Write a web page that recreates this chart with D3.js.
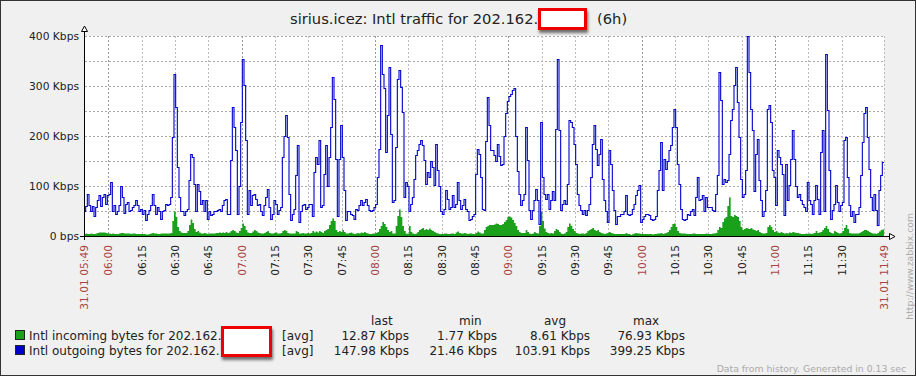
<!DOCTYPE html>
<html><head><meta charset="utf-8">
<script src="https://cdn.jsdelivr.net/npm/d3@7"></script>
<style>html,body{margin:0;padding:0;background:#f0f0f0;overflow:hidden} svg{display:block}</style>
</head><body><svg id="c" width="916" height="376"></svg>
<script>
// ---------- data ----------
const startTime = new Date(2011, 0, 31, 5, 49, 0);
const endTime = new Date(2011, 0, 31, 11, 49, 0);
const stepSeconds = 45;

// Intl outgoing (Kbps), one value per sample
const outgoing = [
49,60,85,62,50,60,39,58,72,82, 60,79,85,65,82,85,109,50,62,45,
49,62,99,79,46,65,69,49,52,59, 62,72,62,49,55,45,52,32,45,52,
62,85,62,45,59,49,35,49,52,65, 62,65,79,199,325,259,139,79,49,49,
42,49,55,112,165,159,105,49,105,90, 65,72,49,72,35,49,42,45,49,49,
52,55,49,62,72,75,45,45,152,259, 219,172,45,99,229,355,302,192,45,92,
62,82,85,75,62,65,49,42,62,79, 95,59,35,45,72,65,45,52,59,159,
200,242,199,85,32,45,55,122,182,29, 49,62,65,55,59,65,65,39,129,159,
145,192,59,62,125,182,99,159,219,319, 275,155,39,155,222,159,92,32,49,49,
45,42,35,55,52,62,72,62,69,75, 62,52,49,52,59,65,119,175,382,325,
295,169,242,339,205,69,72,179,315,332, 299,249,79,109,99,49,65,79,115,162,
172,185,192,182,152,105,129,119,149,139, 102,185,132,99,49,45,55,92,75,55,
59,82,59,65,109,72,55,62,75,55, 49,32,35,39,45,125,175,165,119,55,
52,190,279,222,172,172,162,149,185,160, 142,145,200,245,270,280,285,292,295,200,
130,85,62,72,85,219,152,52,35,52, 72,95,72,25,229,119,85,75,85,55,
72,89,72,215,355,212,52,65,72,65, 105,232,229,219,185,145,85,62,52,45,
52,42,52,65,119,185,222,175,142,165, 195,115,72,49,29,172,145,92,52,25,
39,39,45,45,49,82,45,42,45,55, 65,82,92,102,29,35,39,45,45,42,
35,32,35,39,92,132,189,92,155,135, 149,172,182,219,255,219,145,105,55,35,
32,35,45,42,49,55,42,79,119,72, 75,82,49,79,59,59,59,52,49,85,
122,329,272,105,115,109,112,165,232,255, 302,339,269,199,115,79,85,132,399,329,
255,212,89,165,195,112,72,39,49,92, 255,262,229,132,119,62,172,159,145,125,
42,145,72,102,155,212,155,99,79,85, 72,65,59,49,109,72,65,45,72,102,
75,45,169,212,49,365,252,132,35,52, 65,102,69,49,62,69,192,199,119,62,
39,49,29,45,45,59,122,189,245,259, 199,135,79,52,85,52,22,92,122,148
];

// Intl incoming (Kbps)
const incoming = [
4,5,4,4,5,4,4,5,6,7, 7,7,7,6,5,5,4,5,4,4,
4,5,6,6,5,5,5,5,4,5, 5,4,4,4,4,4,4,3,3,4,
5,6,5,5,4,4,5,5,5,5, 5,5,6,30,49,38,18,10,7,6,
6,6,10,22,33,26,14,8,10,7, 5,5,6,5,4,5,5,5,5,6,
6,7,6,7,6,8,6,7,10,12, 10,7,6,10,16,25,20,12,7,6,
6,9,12,10,7,6,5,5,6,8, 10,6,5,5,6,7,5,5,6,10,
12,10,6,5,5,5,5,10,8,5, 5,6,5,5,6,5,6,10,7,9,
7,10,8,6,10,12,14,22,30,35, 30,12,8,10,8,12,8,5,5,6,
7,5,4,5,6,5,7,6,8,6, 5,4,4,5,5,6,8,14,20,28,
24,18,12,8,10,5,5,20,40,53, 38,20,10,5,4,20,8,5,4,5,
8,12,14,16,12,14,12,15,12,10, 8,6,5,4,4,4,5,5,4,4,
5,5,4,7,9,6,5,5,6,5, 4,5,5,4,4,6,9,7,5,5,
12,18,20,22,22,22,23,25,24,22, 22,24,28,32,38,39,37,32,26,20,
12,8,6,6,6,12,8,5,4,5, 8,6,5,20,48,30,15,8,6,5,
6,5,10,14,12,8,5,4,5,8, 18,25,20,14,10,6,5,4,5,5,
4,6,10,12,14,16,12,10,12,8, 6,5,4,5,6,8,6,5,4,4,
4,4,4,4,4,6,4,4,2,4, 5,6,5,5,4,4,4,4,4,4,
4,3,4,4,5,5,6,4,5,6, 8,12,18,24,25,18,10,6,5,5,
5,4,4,4,4,5,5,4,4,4, 4,4,4,5,4,4,4,5,5,6,
12,18,16,28,35,38,60,77,40,38, 42,40,38,30,18,12,14,16,15,14,
16,13,12,10,12,8,6,5,5,6, 18,22,18,12,8,10,7,6,8,6,
5,6,5,7,6,8,7,6,6,5, 4,4,4,5,4,5,4,5,6,10,
6,7,8,12,16,20,14,8,6,5, 10,8,6,5,6,10,16,22,14,6,
5,5,5,5,5,6,8,10,12,12, 10,8,6,5,5,4,6,9,12,13
];

const gridValues = [50,100,150,200,250,300,350,400];
const yTickValues = [0,100,200,300,400];
const yTickLabels = ["0 bps","100 Kbps","200 Kbps","300 Kbps","400 Kbps"];
const timeTickLabels = ["06:00","06:15","06:30","06:45","07:00","07:15","07:30","07:45",
  "08:00","08:15","08:30","08:45","09:00","09:15","09:30","09:45",
  "10:00","10:15","10:30","10:45","11:00","11:15","11:30"];
const startLabel = "31.01 05:49";
const endLabel = "31.01 11:49";
const titleText = "sirius.icez: Intl traffic for 202.162.";
const titleSuffix = "(6h)";
const seriesNames = ["Intl incoming bytes for 202.162.", "Intl outgoing bytes for 202.162."];
const seriesColors = ["#1aa01a", "#0000cc"];
const statHeaders = ["last","min","avg","max"];
const statsIncoming = ["12.87 Kbps","1.77 Kbps","8.61 Kbps","76.93 Kbps"];
const statsOutgoing = ["147.98 Kbps","21.46 Kbps","103.91 Kbps","399.25 Kbps"];
const footerText = "Data from history. Generated in 0.13 sec";
const watermark = "http://www.zabbix.com";

// ---------- drawing ----------
const W = 916, H = 376;
const X0 = 84, X1 = 884, Y0 = 236, Y1 = 36;
const FONT = "DejaVu Sans, Verdana, sans-serif";
const svg = d3.select("#c");

const defs = svg.append("defs");
const f = defs.append("filter").attr("id","sh").attr("x","-30%").attr("y","-30%").attr("width","170%").attr("height","190%");
f.append("feDropShadow").attr("dx",1).attr("dy",3).attr("stdDeviation",1.8).attr("flood-color","#000").attr("flood-opacity",0.55);

svg.append("rect").attr("x",0.5).attr("y",0.5).attr("width",W-1).attr("height",H-1)
  .attr("fill","#f0f0f0").attr("stroke","#333");

const x = d3.scaleTime().domain([startTime, endTime]).range([X0, X1]);
const y = d3.scaleLinear().domain([0, 400]).range([Y0, Y1]);

svg.append("rect").attr("x",X0).attr("y",Y1).attr("width",X1-X0).attr("height",Y0-Y1).attr("fill","#fff");

// grid
const parseHM = s => { const [h,m] = s.split(":").map(Number); return new Date(2011,0,31,h,m,0); };
const g = svg.append("g");
gridValues.forEach(v => {
  const yy = Math.round(y(v)) + 0.5;
  g.append("line").attr("x1",X0+1).attr("x2",X1).attr("y1",yy).attr("y2",yy)
    .attr("stroke","#aaaaaa").attr("stroke-dasharray","2,2");
});
timeTickLabels.forEach(s => {
  const t = parseHM(s);
  const xx = Math.round(x(t)) + 0.5;
  const isHour = t.getMinutes() === 0;
  g.append("line").attr("x1",xx).attr("x2",xx).attr("y1",Y1).attr("y2",Y0)
    .attr("stroke", isHour ? "#999999" : "#bbbbbb").attr("stroke-dasharray","2,2");
});
g.append("line").attr("x1",X1+0.5).attr("x2",X1+0.5).attr("y1",Y1).attr("y2",Y0)
  .attr("stroke","#bbbbbb").attr("stroke-dasharray","2,2");

// series
const toPts = arr => {
  const pts = arr.map((v,i) => ({t: new Date(startTime.getTime() + i*stepSeconds*1000), v}));
  pts.push({t: endTime, v: arr[arr.length-1]});
  return pts;
};
const inPts = toPts(incoming), outPts = toPts(outgoing);
svg.append("path").datum(inPts)
  .attr("d", d3.area().x(d=>x(d.t)).y0(Y0).y1(d=>y(d.v)).curve(d3.curveStepAfter))
  .attr("fill", seriesColors[0]);
svg.append("path").datum(outPts)
  .attr("d", d3.line().x(d=>x(d.t)).y(d=>Math.round(y(d.v))+0.5).curve(d3.curveStepAfter))
  .attr("fill","none").attr("stroke", seriesColors[1]).attr("stroke-width",1.1);

// axes
svg.append("line").attr("x1",X0+0.5).attr("x2",X0+0.5).attr("y1",31).attr("y2",Y0+4).attr("stroke","#000");
svg.append("polygon").attr("points",`${X0+0.5},26 ${X0-2.5},31.5 ${X0+3.5},31.5`).attr("fill","#fff").attr("stroke","#000");
svg.append("line").attr("x1",X0-4).attr("x2",889).attr("y1",Y0+0.5).attr("y2",Y0+0.5).attr("stroke","#000");
svg.append("polygon").attr("points",`895,${Y0+0.5} 889.5,${Y0-2.5} 889.5,${Y0+3.5}`).attr("fill","#fff").attr("stroke","#000");

// y labels
yTickValues.forEach((v,i) => {
  svg.append("text").attr("x",79).attr("y",y(v)).attr("dy","0.36em")
    .attr("text-anchor","end").attr("font-family",FONT).attr("font-size","10.7px").attr("fill","#222")
    .text(yTickLabels[i]);
});

// x labels
const xLabel = (xx, txt, red) => {
  svg.append("text").attr("transform",`translate(${xx+4},245) rotate(-90)`)
    .attr("text-anchor","end").attr("font-family",FONT).attr("font-size","10.7px")
    .attr("fill", red ? "#aa4444" : "#222").text(txt);
};
xLabel(x(startTime), startLabel, true);
timeTickLabels.forEach(s => { const t = parseHM(s); xLabel(x(t), s, t.getMinutes() === 0); });
xLabel(x(endTime), endLabel, true);

// title
svg.append("text").attr("x",290).attr("y",24).attr("font-family",FONT).attr("font-size","14.7px").attr("fill","#222").text(titleText);
svg.append("rect").attr("x",539.5).attr("y",9.5).attr("width",46).attr("height",19)
  .attr("fill","#fff").attr("stroke","#ee0000").attr("stroke-width",3).attr("filter","url(#sh)");
svg.append("text").attr("x",597).attr("y",24).attr("font-family",FONT).attr("font-size","14.7px").attr("fill","#222").text(titleSuffix);

// legend
const headX = [371, 459, 544, 633];
const valX = [409, 497, 590, 685];
statHeaders.forEach((h,i) => svg.append("text").attr("x",headX[i]).attr("y",325)
  .attr("font-family",FONT).attr("font-size","12px").attr("fill","#222").text(h));
[statsIncoming, statsOutgoing].forEach((st, r) => {
  const by = 340 + r*15;
  svg.append("rect").attr("x",15.5).attr("y",by-9.5).attr("width",9).attr("height",9)
    .attr("fill",seriesColors[r]).attr("stroke","#222");
  svg.append("text").attr("x",29).attr("y",by).attr("font-family",FONT).attr("font-size","12px").attr("fill","#222").text(seriesNames[r]);
  svg.append("text").attr("x",282).attr("y",by).attr("font-family",FONT).attr("font-size","12px").attr("fill","#222").text("[avg]");
  st.forEach((s,i) => svg.append("text").attr("x",valX[i]).attr("y",by).attr("text-anchor","end")
    .attr("font-family",FONT).attr("font-size","12px").attr("fill","#222").text(s));
});
svg.append("rect").attr("x",222.5).attr("y",327.5).attr("width",48).attr("height",28)
  .attr("fill","#fff").attr("stroke","#ee0000").attr("stroke-width",3).attr("filter","url(#sh)");

// footer + watermark
svg.append("text").attr("x",906).attr("y",372).attr("text-anchor","end").attr("font-family",FONT)
  .attr("font-size","9.3px").attr("fill","#aaaaaa").text(footerText);
svg.append("text").attr("transform","translate(913,213) rotate(-90)").attr("text-anchor","end")
  .attr("font-family",FONT).attr("font-size","9.3px").attr("fill","#aaaaaa").text(watermark);
</script></body></html>
